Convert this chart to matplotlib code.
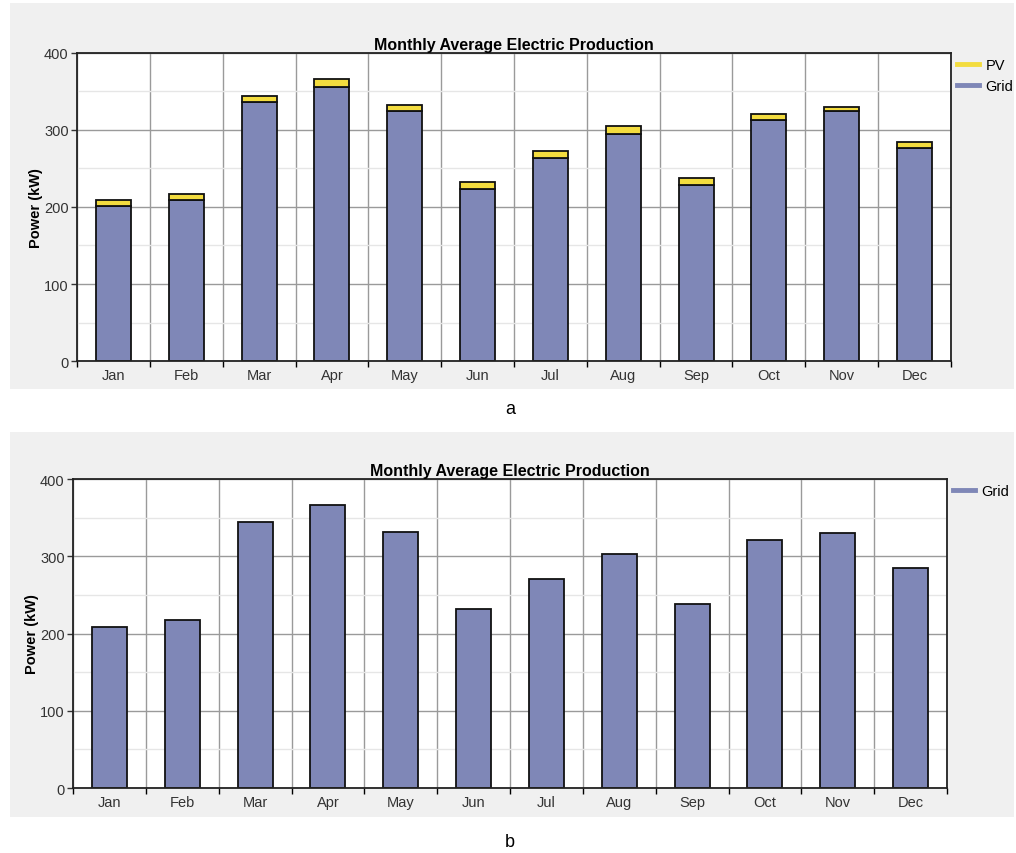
import matplotlib
matplotlib.use("Agg")
import matplotlib.pyplot as plt
from matplotlib.patches import Rectangle
from matplotlib.lines import Line2D
import numpy as np

plt.rcParams['font.family'] = ['Liberation Sans', 'DejaVu Sans']

months = ["Jan", "Feb", "Mar", "Apr", "May", "Jun",
          "Jul", "Aug", "Sep", "Oct", "Nov", "Dec"]

# chart a: grid + PV stacked
grid_a = [201, 209, 336, 356, 324, 224, 263, 295, 228, 313, 324, 277]
pv_a = [8, 8, 8, 10, 8, 9, 10, 10, 10, 8, 6, 8]

# chart b: grid only
grid_b = [209, 218, 344, 366, 332, 232, 271, 303, 238, 321, 330, 285]

title = "Monthly Average Electric Production"
grid_color = "#7f87b7"
pv_color = "#f3dc3f"
panel_color = "#f0f0f0"


def style_axes(ax):
    x = np.arange(len(months))
    ax.set_xlim(-0.5, len(months) - 0.5)
    ax.set_ylim(0, 400)
    ax.set_xticks(x)
    ax.set_xticklabels(months)
    ax.set_xticks(np.arange(-0.5, len(months)), minor=True)
    ax.tick_params(axis='x', which='major', length=0, labelsize=10.5, pad=5,
                   colors='#333333')
    ax.tick_params(axis='x', which='minor', length=4, width=1, direction='out')
    ax.set_yticks([0, 100, 200, 300, 400])
    ax.set_yticks([50, 150, 250, 350], minor=True)
    ax.tick_params(axis='y', which='major', length=4, width=1, labelsize=10.5,
                   pad=2, colors='#333333')
    ax.tick_params(axis='y', which='minor', length=0)
    ax.grid(axis='y', which='major', color='#9a9a9a', linewidth=1)
    ax.grid(axis='y', which='minor', color='#e6e6e6', linewidth=1)
    ax.grid(axis='x', which='minor', color='#9a9a9a', linewidth=1)
    ax.set_axisbelow(True)
    for s in ax.spines.values():
        s.set_color('#222222')
        s.set_linewidth(1.3)
    ax.set_title(title, fontsize=11.5, fontweight='bold', pad=3)
    ax.set_ylabel("Power (kW)", fontsize=10.5, fontweight='bold', labelpad=1)


fig = plt.figure(figsize=(10.16, 8.54), dpi=100)

# grey panels behind each chart
fig.patches.append(Rectangle((0.0098, 0.5433), 0.988, 0.452, transform=fig.transFigure,
                             facecolor=panel_color, edgecolor='none', zorder=-1))
fig.patches.append(Rectangle((0.0098, 0.0422), 0.988, 0.4508, transform=fig.transFigure,
                             facecolor=panel_color, edgecolor='none', zorder=-1))

ax_a = fig.add_axes([0.0758, 0.5761, 0.8602, 0.3607])
ax_b = fig.add_axes([0.0719, 0.0761, 0.8602, 0.3618])

x = np.arange(len(months))
ax_a.bar(x, grid_a, width=0.48, color=grid_color, edgecolor='#111111', linewidth=1.3)
ax_a.bar(x, pv_a, bottom=grid_a, width=0.48, color=pv_color, edgecolor='#111111',
         linewidth=1.3)
style_axes(ax_a)
ax_a.legend(handles=[Line2D([], [], color=pv_color, lw=3.5),
                     Line2D([], [], color=grid_color, lw=3.5)],
            labels=["PV", "Grid"], loc='upper left', bbox_to_anchor=(1.003, 0.995),
            borderaxespad=0, borderpad=0.25, frameon=False, fontsize=10.5,
            handlelength=1.5, handletextpad=0.45, labelspacing=0.5)

ax_b.bar(x, grid_b, width=0.48, color=grid_color, edgecolor='#111111', linewidth=1.3)
style_axes(ax_b)
ax_b.legend(handles=[Line2D([], [], color=grid_color, lw=3.5)],
            labels=["Grid"], loc='upper left', bbox_to_anchor=(1.003, 0.995),
            borderaxespad=0, borderpad=0.25, frameon=False, fontsize=10.5,
            handlelength=1.5, handletextpad=0.45)

fig.text(0.502, 1 - 410 / 854, "a", fontsize=13, ha='center', va='center')
fig.text(0.502, 1 - 843 / 854, "b", fontsize=13, ha='center', va='center')

fig.savefig("out.png", dpi=100)
